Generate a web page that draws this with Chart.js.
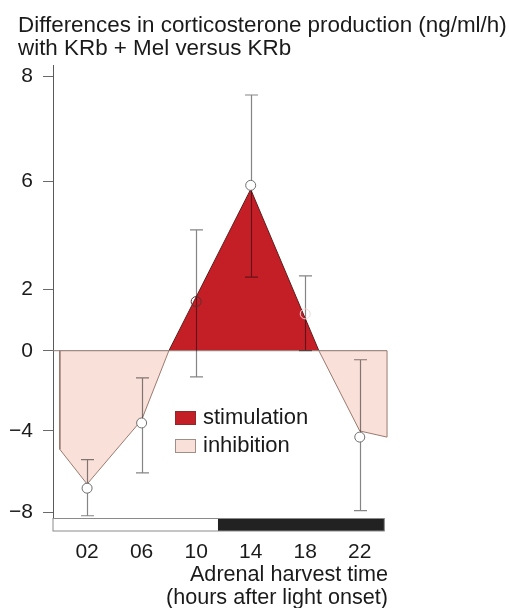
<!DOCTYPE html>
<html>
<head>
<meta charset="utf-8">
<script src="https://cdn.jsdelivr.net/npm/chart.js@4.4.1/dist/chart.umd.min.js"></script>
<style>
  html, body { margin: 0; padding: 0; background: #fff; }
  #wrap { width: 509px; height: 608px; position: relative; }
</style>
</head>
<body>
<div id="wrap"><canvas id="c"></canvas></div>
<script>
// Sampling times (hours after light onset) and their axis labels
const hours = [2, 6, 10, 14, 18, 22];
const hourLabels = ['02', '06', '10', '14', '18', '22'];
// Mean difference in corticosterone production (ng/ml/h), KRb + Mel minus KRb
const meanDiff = [-6.8, -3.6, 1.6, 5.85, 1.2, -4.3];
// Upper and lower ends of the error bars
const errHigh = [-5.4, -1.35, 4.2, 7.65, 2.5, -0.45];
const errLow = [-8.15, -6.05, -1.3, 2.45, 0.0, -7.9];
// Outline of the shaded stimulation / inhibition profile over the 24 h day
const profileHours = [0, 0, 2, 6, 8, 14, 19, 22, 24, 24];
const profileValues = [0, -4.9, -6.6, -3.45, 0, 5.7, 0, -4.0, -4.3, 0];
// Zero reference line
const zeroHours = [-0.5, 24];
const zeroValues = [0, 0];
// Y axis tick values
const yTicks = [8, 6, 2, 0, -4, -8];
// Light / dark phases drawn under the time axis (hours)
const phaseStart = [-0.5, 11.6];
const phaseEnd = [11.6, 23.8];
const phaseNames = ['light', 'dark'];

// The y axis is segmented: each tick sits at its own place along the axis
// and values are placed linearly between neighbouring ticks.
const yTickFractions = [0.0258, 0.2567, 0.4951, 0.6307, 0.8079, 0.9883];

class SegmentedScale extends Chart.LinearScale {
  static id = 'segmented';
  _segment(list, v, descending) {
    let i = 0;
    const n = list.length;
    if (descending) {
      if (v >= list[0]) return 0;
      if (v <= list[n - 1]) return n - 2;
      while (i < n - 2 && v < list[i + 1]) i++;
    } else {
      if (v <= list[0]) return 0;
      if (v >= list[n - 1]) return n - 2;
      while (i < n - 2 && v > list[i + 1]) i++;
    }
    return i;
  }
  getPixelForValue(v) {
    if (v === null || v === undefined || isNaN(v)) return NaN;
    const i = this._segment(yTicks, v, true);
    const t = (v - yTicks[i]) / (yTicks[i + 1] - yTicks[i]);
    const f = yTickFractions[i] + t * (yTickFractions[i + 1] - yTickFractions[i]);
    return this.top + f * (this.bottom - this.top);
  }
  getValueForPixel(p) {
    const f = (p - this.top) / (this.bottom - this.top);
    const i = this._segment(yTickFractions, f, false);
    const t = (f - yTickFractions[i]) / (yTickFractions[i + 1] - yTickFractions[i]);
    return yTicks[i] + t * (yTicks[i + 1] - yTicks[i]);
  }
}
Chart.register(SegmentedScale);

const FONT = "'Liberation Sans', Arial, Helvetica, sans-serif";
const INK = '#1a1a1a';
const RED = '#c41f27';
const PINK = '#f9e0d8';

Chart.defaults.font.family = FONT;
Chart.defaults.color = INK;

const pts = (xs, ys) => xs.map((x, i) => ({ x, y: ys[i] }));

const decor = {
  id: 'decor',
  beforeDatasetDraw(chart, args) {
    if (args.index !== 0) return;
    // error bars, blended into the shading beneath them
    const { ctx, scales: { x, y } } = chart;
    ctx.save();
    ctx.globalCompositeOperation = 'multiply';
    ctx.strokeStyle = '#858585';
    ctx.lineWidth = 1.2;
    hours.forEach((h, i) => {
      const px = Math.round(x.getPixelForValue(h)) + 0.5;
      const top = y.getPixelForValue(errHigh[i]);
      const bot = y.getPixelForValue(errLow[i]);
      ctx.beginPath();
      ctx.moveTo(px, top); ctx.lineTo(px, bot);
      ctx.moveTo(px - 6.5, top); ctx.lineTo(px + 6.5, top);
      ctx.moveTo(px - 6.5, bot); ctx.lineTo(px + 6.5, bot);
      ctx.stroke();
    });
    ctx.restore();
  },
  afterDraw(chart) {
    const { ctx, chartArea, scales: { x } } = chart;
    ctx.save();

    // light / dark bar
    const barTop = chartArea.bottom + 0.5;
    const barH = 12.5;
    phaseStart.forEach((s, i) => {
      const x0 = x.getPixelForValue(s);
      const x1 = x.getPixelForValue(phaseEnd[i]);
      ctx.fillStyle = phaseNames[i] === 'dark' ? '#222222' : '#ffffff';
      ctx.fillRect(x0, barTop, x1 - x0, barH);
    });
    const bx0 = x.getPixelForValue(phaseStart[0]);
    const bx1 = x.getPixelForValue(phaseEnd[phaseEnd.length - 1]);
    ctx.strokeStyle = '#8a8a8a';
    ctx.lineWidth = 1;
    ctx.strokeRect(bx0, barTop, bx1 - bx0, barH);

    // heading
    ctx.fillStyle = INK;
    ctx.font = '22.4px ' + FONT;
    ctx.textAlign = 'left';
    ctx.textBaseline = 'alphabetic';
    ctx.fillText('Differences in corticosterone production (ng/ml/h)', 18, 31.5);
    ctx.fillText('with KRb + Mel versus KRb', 18, 55);

    // time axis title, right aligned
    ctx.font = '21.6px ' + FONT;
    ctx.textAlign = 'right';
    ctx.fillText('Adrenal harvest time', 388, 581);
    ctx.fillText('(hours after light onset)', 388, 604);

    // legend
    ctx.font = '22px ' + FONT;
    const items = [
      { label: 'stimulation', fill: RED, stroke: '#8c2a2a', y: 411 },
      { label: 'inhibition', fill: PINK, stroke: '#a08e88', y: 439 }
    ];
    ctx.textAlign = 'left';
    items.forEach(it => {
      ctx.fillStyle = it.fill;
      ctx.fillRect(175.5, it.y + 0.5, 20, 13);
      ctx.strokeStyle = it.stroke;
      ctx.strokeRect(175.5, it.y + 0.5, 20, 13);
      ctx.fillStyle = INK;
      ctx.fillText(it.label, 203, it.y + 12.5);
    });
    ctx.restore();
  }
};

new Chart(document.getElementById('c'), {
  type: 'line',
  data: {
    datasets: [
      {
        label: 'mean',
        data: pts(hours, meanDiff),
        showLine: false,
        pointStyle: 'circle',
        pointRadius: 5,
        pointBorderWidth: 1,
        pointBackgroundColor: ['#ffffff', '#ffffff', 'rgba(255,255,255,0)', '#ffffff', 'rgba(255,255,255,0)', '#ffffff'],
        pointBorderColor: ['#6e6e6e', '#6e6e6e', '#5a3030', '#6e6e6e', '#f2d6d6', '#6e6e6e']
      },
      {
        label: 'zero',
        data: pts(zeroHours, zeroValues),
        borderColor: '#8e7a74',
        borderWidth: 1,
        pointRadius: 0,
        fill: false
      },
      {
        label: 'profile',
        data: pts(profileHours, profileValues),
        borderWidth: 1,
        pointRadius: 0,
        tension: 0,
        fill: { target: 'origin', above: RED, below: PINK },
        segment: {
          borderColor: c => (c.p0.parsed.y >= 0 && c.p1.parsed.y >= 0) ? '#5e1a1a' : '#9a7a70'
        }
      }
    ]
  },
  options: {
    responsive: true,
    maintainAspectRatio: false,
    animation: false,
    events: [],
    layout: { padding: { top: 65, right: 120.6, bottom: 0, left: 0 } },
    plugins: {
      legend: { display: false },
      title: { display: false },
      tooltip: { enabled: false }
    },
    scales: {
      x: {
        type: 'linear',
        min: -0.5,
        max: 24.1,
        afterBuildTicks: s => { s.ticks = hours.map(v => ({ value: v })); },
        afterFit: s => { s.height = 90; },
        grid: { display: false, drawTicks: false },
        border: { display: false },
        ticks: {
          autoSkip: false,
          maxRotation: 0,
          padding: 22,
          color: INK,
          font: { size: 21 },
          callback: v => hourLabels[hours.indexOf(v)]
        }
      },
      y: {
        type: 'segmented',
        min: -8.5,
        max: 8.3,
        afterBuildTicks: s => { s.ticks = yTicks.map(v => ({ value: v })); },
        afterFit: s => { s.width = 53; },
        grid: { drawOnChartArea: false, drawTicks: true, tickLength: 10, color: '#6a6a6a', lineWidth: 1 },
        border: { display: true, color: '#5a5a5a', width: 1 },
        ticks: {
          autoSkip: false,
          padding: 10,
          color: INK,
          font: { size: 21 },
          callback: v => v < 0 ? '\u2212' + Math.abs(v) : String(v)
        }
      }
    }
  },
  plugins: [decor]
});
</script>
</body>
</html>
